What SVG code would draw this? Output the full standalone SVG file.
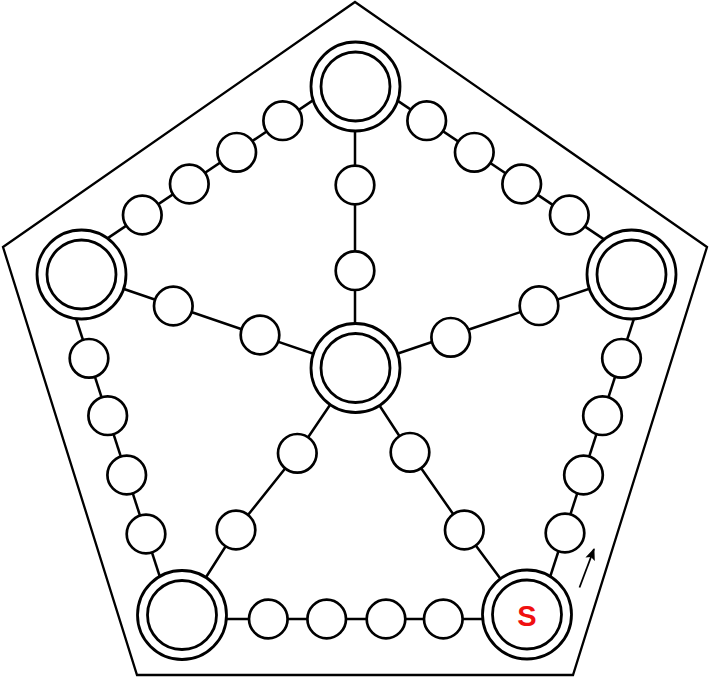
<svg xmlns="http://www.w3.org/2000/svg" width="710" height="679" viewBox="0 0 710 679">
<style>
.frame{fill:none;stroke:#000;stroke-width:2.3;stroke-linejoin:miter}
.link{fill:none;stroke:#000;stroke-width:2.5}
.ring{fill:#fff;stroke:#000;stroke-width:2.8}
.dot{fill:#fff;stroke:#000;stroke-width:2.7}
.lbl{font-family:"Liberation Sans",Arial,sans-serif;font-weight:bold;font-size:29px;fill:#f01010;text-anchor:middle}
</style>
<defs>
<marker id="ah" viewBox="0 0 12 10" refX="11" refY="5" markerWidth="12" markerHeight="10" markerUnits="userSpaceOnUse" orient="auto">
<path d="M0,0 L12,5 L0,10 L2.5,5 z" fill="#000"/>
</marker>
</defs>
<polygon class="frame" points="355,2 707,247 573,675 137,675 3,247"/>
<g id="connectors">
<line class="link" x1="320" y1="95.6" x2="100" y2="243.4"/>
<line class="link" x1="390" y1="95.6" x2="610" y2="243.4"/>
<line class="link" x1="355" y1="86.5" x2="355" y2="368"/>
<line class="link" x1="355" y1="368" x2="81.5" y2="274.5"/>
<line class="link" x1="355" y1="368" x2="631.5" y2="274.5"/>
<polyline class="link" points="355,368 297.3,453.3 236,530 182,615"/>
<polyline class="link" points="355,368 410,452.3 464.3,530 527,614.5"/>
<line class="link" x1="57" y1="260" x2="167.4" y2="600"/>
<line class="link" x1="653" y1="260" x2="542.6" y2="600"/>
<line class="link" x1="182" y1="619" x2="527" y2="619"/>
<line x1="579.5" y1="587.5" x2="594" y2="549" stroke="#000" stroke-width="1.8" marker-end="url(#ah)"/>
</g>
<g id="n-top"><circle class="ring" cx="355.5" cy="86.5" r="44.5"/><circle class="ring" cx="355.5" cy="86.5" r="34.5"/></g>
<g id="n-left"><circle class="ring" cx="81.5" cy="274.5" r="44.5"/><circle class="ring" cx="81.5" cy="274.5" r="34.5"/></g>
<g id="n-right"><circle class="ring" cx="631.5" cy="274.5" r="44.5"/><circle class="ring" cx="631.5" cy="274.5" r="34.5"/></g>
<g id="n-center"><circle class="ring" cx="355.5" cy="368" r="44.5"/><circle class="ring" cx="355.5" cy="368" r="34.5"/></g>
<g id="n-bl"><circle class="ring" cx="182" cy="615" r="44.5"/><circle class="ring" cx="182" cy="615" r="34.5"/></g>
<g id="n-s"><circle class="ring" cx="527" cy="614.5" r="44.5"/><circle class="ring" cx="527" cy="614.5" r="34.5"/><text class="lbl" x="527" y="625.5">S</text></g>
<g id="d-tl"><circle class="dot" cx="282.7" cy="120.7" r="19.3"/><circle class="dot" cx="236.7" cy="152.3" r="19.3"/><circle class="dot" cx="189.3" cy="184" r="19.3"/><circle class="dot" cx="142.3" cy="215" r="19.3"/></g>
<g id="d-tr"><circle class="dot" cx="426.7" cy="120.7" r="19.3"/><circle class="dot" cx="474.3" cy="152.3" r="19.3"/><circle class="dot" cx="521.7" cy="184" r="19.3"/><circle class="dot" cx="569.3" cy="215" r="19.3"/></g>
<g id="d-v"><circle class="dot" cx="355" cy="185" r="19.3"/><circle class="dot" cx="355" cy="270.7" r="19.3"/></g>
<g id="d-sl"><circle class="dot" cx="173.3" cy="306" r="19.3"/><circle class="dot" cx="260" cy="335" r="19.3"/></g>
<g id="d-sr"><circle class="dot" cx="450.7" cy="337.3" r="19.3"/><circle class="dot" cx="539" cy="305.7" r="19.3"/></g>
<g id="d-sbl"><circle class="dot" cx="297.3" cy="453.3" r="19.3"/><circle class="dot" cx="236" cy="530" r="19.3"/></g>
<g id="d-sbr"><circle class="dot" cx="410" cy="452.3" r="19.3"/><circle class="dot" cx="464.3" cy="530" r="19.3"/></g>
<g id="d-le"><circle class="dot" cx="89" cy="358.3" r="19.3"/><circle class="dot" cx="107.7" cy="415.7" r="19.3"/><circle class="dot" cx="126.7" cy="475" r="19.3"/><circle class="dot" cx="146" cy="534" r="19.3"/></g>
<g id="d-re"><circle class="dot" cx="621.5" cy="358.3" r="19.3"/><circle class="dot" cx="602.5" cy="415.7" r="19.3"/><circle class="dot" cx="583.5" cy="475" r="19.3"/><circle class="dot" cx="565" cy="533" r="19.3"/></g>
<g id="d-b"><circle class="dot" cx="268.3" cy="619" r="19.3"/><circle class="dot" cx="326.7" cy="619" r="19.3"/><circle class="dot" cx="386" cy="619" r="19.3"/><circle class="dot" cx="443.3" cy="619" r="19.3"/></g>
</svg>
